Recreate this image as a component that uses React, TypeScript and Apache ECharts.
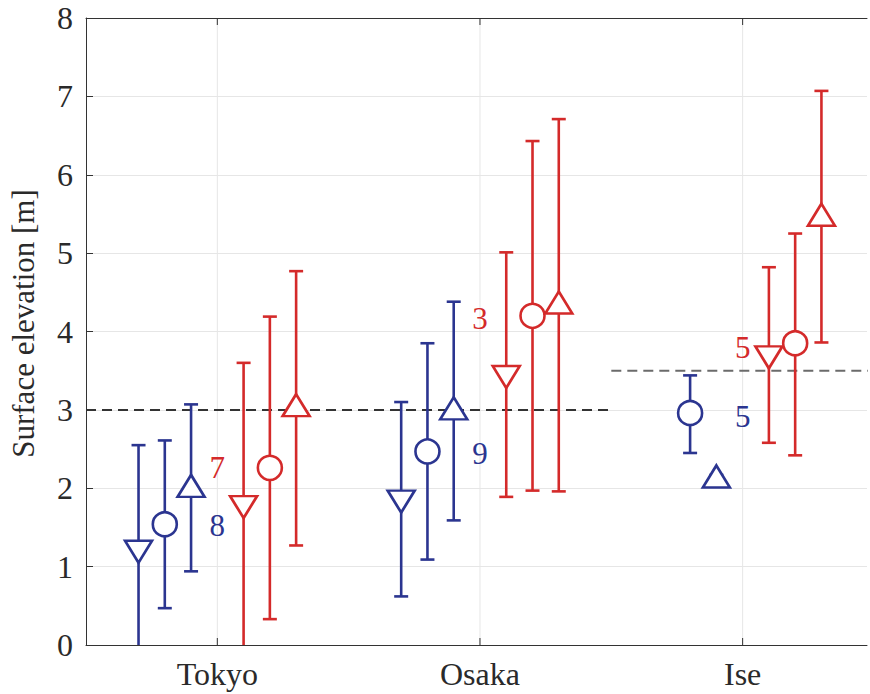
import React, { useEffect, useRef } from "react";
import * as echarts from "echarts";

const categories = ["Tokyo", "Osaka", "Ise"];
const yTicks = [0, 1, 2, 3, 4, 5, 6, 7, 8];

// mean / lower / upper per city (Tokyo, Osaka, Ise)
const blueDownMean = [1.19, 1.83, null];
const blueDownLow = [-0.3, 0.62, null];
const blueDownHigh = [2.55, 3.1, null];

const blueCircleMean = [1.54, 2.47, 2.96];
const blueCircleLow = [0.47, 1.09, 2.45];
const blueCircleHigh = [2.61, 3.85, 3.44];

const blueUpMean = [2.03, 3.02, 2.15];
const blueUpLow = [0.94, 1.59, 2.12];
const blueUpHigh = [3.07, 4.38, 2.17];

const redDownMean = [1.76, 3.42, 3.67];
const redDownLow = [-0.3, 1.89, 2.58];
const redDownHigh = [3.6, 5.01, 4.82];

const redCircleMean = [2.26, 4.2, 3.85];
const redCircleLow = [0.33, 1.97, 2.42];
const redCircleHigh = [4.19, 6.43, 5.25];

const redUpMean = [3.06, 4.37, 5.49];
const redUpLow = [1.27, 1.96, 3.86];
const redUpHigh = [4.77, 6.71, 7.07];

// reference levels: [fromCategory, toCategory, level]
const refLevels = [
  [1, 2, 3.0],
  [3, 3, 3.5],
];

// count annotations: city index (1-based), y value, text, group
const noteCity = [1, 1, 2, 2, 3, 3];
const noteY = [2.27, 1.52, 4.17, 2.44, 3.8, 2.92];
const noteText = ["7", "8", "3", "9", "5", "5"];
const noteGroup = ["red", "blue", "red", "blue", "red", "blue"];

const BLUE = "#2b3590";
const RED = "#d42a2a";
const FONT = "Liberation Serif, serif";
const TEXT = "#2a2a2a";
const X_MIN = 0.5;
const X_MAX = 3.4735; // plot is cropped on the right in the original figure

const groups = [
  { color: BLUE, symbol: "triangle", rotate: 180, size: [27, 22], off: -0.3, mean: blueDownMean, low: blueDownLow, high: blueDownHigh },
  { color: BLUE, symbol: "circle", rotate: 0, size: 24, off: -0.2, mean: blueCircleMean, low: blueCircleLow, high: blueCircleHigh },
  { color: BLUE, symbol: "triangle", rotate: 0, size: [27, 22], off: -0.1, mean: blueUpMean, low: blueUpLow, high: blueUpHigh },
  { color: RED, symbol: "triangle", rotate: 180, size: [27, 22], off: 0.1, mean: redDownMean, low: redDownLow, high: redDownHigh },
  { color: RED, symbol: "circle", rotate: 0, size: 24, off: 0.2, mean: redCircleMean, low: redCircleLow, high: redCircleHigh },
  { color: RED, symbol: "triangle", rotate: 0, size: [27, 22], off: 0.3, mean: redUpMean, low: redUpLow, high: redUpHigh },
];

export default function App() {
  const ref = useRef<HTMLDivElement>(null);
  useEffect(() => {
    if (!ref.current) return;
    const chart = echarts.init(ref.current, null, { renderer: "svg" });

    const series: any[] = [];

    // vertical grid lines and tick marks at the categories
    series.push({
      type: "custom",
      silent: true,
      clip: false,
      z: 0,
      data: categories.map((_, i) => [i + 1]),
      renderItem: (params: any, api: any) => {
        const x = api.value(0);
        const b = api.coord([x, yTicks[0]]);
        const t = api.coord([x, yTicks[yTicks.length - 1]]);
        const st = { stroke: "#333", lineWidth: 1 };
        return {
          type: "group",
          children: [
            { type: "line", shape: { x1: b[0], y1: b[1], x2: t[0], y2: t[1] }, style: { stroke: "#e6e6e6", lineWidth: 1 } },
            { type: "line", shape: { x1: b[0], y1: b[1], x2: b[0], y2: b[1] - 7 }, style: st },
            { type: "line", shape: { x1: t[0], y1: t[1], x2: t[0], y2: t[1] + 7 }, style: st },
          ],
        };
      },
    });

    refLevels.forEach((r, i) => {
      series.push({
        type: "line",
        silent: true,
        symbol: "none",
        z: 2,
        data: [
          [r[0] - 0.5, r[2]],
          [r[1] + 0.5, r[2]],
        ],
        lineStyle: { color: i === 0 ? "#333" : "#6b6b6b", width: 2, type: [10, 6] },
      });
    });

    groups.forEach((g) => {
      const bars: number[][] = [];
      const pts: number[][] = [];
      g.mean.forEach((m, i) => {
        if (m === null) return;
        const x = i + 1 + g.off;
        bars.push([x, g.low[i] as number, g.high[i] as number]);
        pts.push([x, m as number]);
      });
      series.push({
        type: "custom",
        silent: true,
        clip: true,
        z: 3,
        data: bars,
        encode: { x: 0, y: [1, 2] },
        renderItem: (params: any, api: any) => {
          const x = api.value(0);
          const p1 = api.coord([x, api.value(1)]);
          const p2 = api.coord([x, api.value(2)]);
          const hw = 7;
          const st = { stroke: g.color, lineWidth: 2.6 };
          return {
            type: "group",
            children: [
              { type: "line", shape: { x1: p1[0], y1: p1[1], x2: p2[0], y2: p2[1] }, style: st },
              { type: "line", shape: { x1: p1[0] - hw, y1: p1[1], x2: p1[0] + hw, y2: p1[1] }, style: st },
              { type: "line", shape: { x1: p2[0] - hw, y1: p2[1], x2: p2[0] + hw, y2: p2[1] }, style: st },
            ],
          };
        },
      });
      series.push({
        type: "scatter",
        silent: true,
        z: 4,
        symbol: g.symbol,
        symbolSize: g.size,
        symbolRotate: g.rotate,
        data: pts,
        itemStyle: { color: "#ffffff", borderColor: g.color, borderWidth: 2.6, opacity: 1 },
      });
    });

    series.push({
      type: "custom",
      silent: true,
      clip: false,
      z: 5,
      data: noteText.map((t, i) => [noteCity[i], noteY[i], i]),
      renderItem: (params: any, api: any) => {
        const idx = api.value(2);
        const p = api.coord([api.value(0), api.value(1)]);
        return {
          type: "text",
          x: p[0],
          y: p[1],
          style: {
            text: noteText[idx],
            fill: noteGroup[idx] === "red" ? RED : BLUE,
            fontSize: 31,
            fontFamily: FONT,
            align: "center",
            verticalAlign: "middle",
          },
        };
      },
    });

    chart.setOption({
      animation: false,
      textStyle: { fontFamily: FONT },
      grid: {
        left: 85,
        right: 0,
        top: 18,
        bottom: 49,
      },
      xAxis: [
        {
          type: "value",
          min: X_MIN,
          max: X_MAX,
          interval: 0.5,
          axisLine: { show: true, lineStyle: { color: "#333", width: 1 } },
          axisTick: { show: false },
          splitLine: { show: false },
          axisLabel: {
            formatter: (v: number) => {
              const i = Math.round(v * 2);
              return Math.abs(v * 2 - i) < 1e-6 && i % 2 === 0 && categories[i / 2 - 1] ? categories[i / 2 - 1] : "";
            },
            fontSize: 32,
            fontFamily: FONT,
            color: TEXT,
            margin: 13,
            showMinLabel: true,
            showMaxLabel: true,
          },
        },
        {
          type: "value",
          position: "top",
          min: X_MIN,
          max: X_MAX,
          interval: 0.5,
          axisLine: { show: true, onZero: false, lineStyle: { color: "#333", width: 1 } },
          axisTick: { show: false },
          axisLabel: { show: false },
          splitLine: { show: false },
        },
      ],
      yAxis: {
        type: "value",
        min: yTicks[0],
        max: yTicks[yTicks.length - 1],
        interval: 1,
        name: "Surface elevation [m]",
        nameLocation: "middle",
        nameGap: 47,
        nameTextStyle: { fontSize: 31, fontFamily: FONT, color: TEXT, padding: [0, 0, 0, 16] },
        axisLine: { show: true, lineStyle: { color: "#333", width: 1 } },
        axisTick: { show: true, inside: true, length: 7, lineStyle: { color: "#333" } },
        splitLine: { show: true, lineStyle: { color: "#e6e6e6", width: 1 } },
        axisLabel: { fontSize: 32, fontFamily: FONT, color: TEXT, margin: 13 },
      },
      series,
    });
    return () => chart.dispose();
  }, []);
  return (
    <div
      ref={ref}
      style={{ position: "fixed", left: 0, top: 0, width: 870, height: 694, background: "#fff" }}
    />
  );
}
